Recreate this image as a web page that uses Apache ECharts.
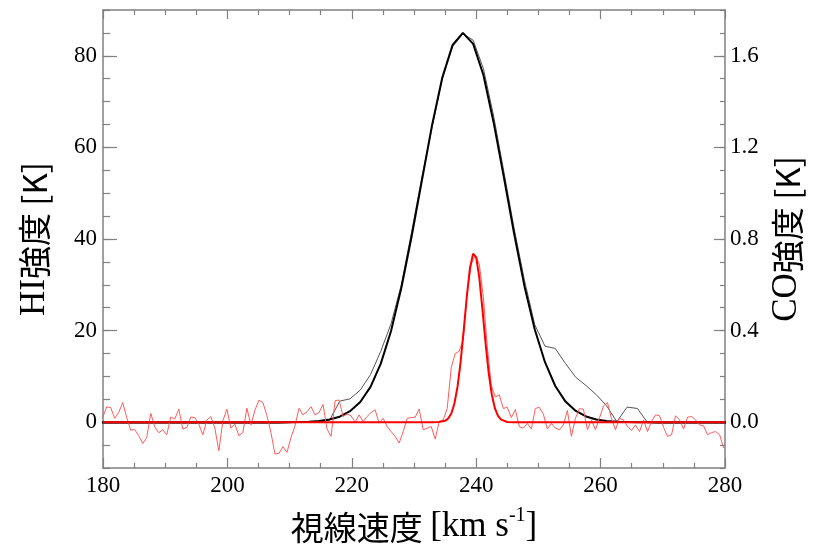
<!DOCTYPE html>
<html>
<head>
<meta charset="utf-8">
<script src="https://cdn.jsdelivr.net/npm/echarts@6/dist/echarts.min.js"></script>
<style>html,body{margin:0;padding:0;background:#fff}#c{width:819px;height:555px}</style>
</head>
<body>
<div id="c"></div>
<script>
// ---- data ----
const xTicks = [180, 200, 220, 240, 260, 280];
const hiTicks = [0, 20, 40, 60, 80];
const coTicks = [0, 0.4, 0.8, 1.2, 1.6];

// HI channels (km/s)
const hiVel = [178.46,180.11,181.76,183.41,185.06,186.71,188.36,190.01,191.66,193.31,194.96,196.61,198.26,199.91,201.56,203.21,204.86,206.51,208.16,209.81,211.46,213.11,214.76,216.41,218.06,219.71,221.36,223.01,224.66,226.31,227.96,229.61,231.26,232.91,234.56,236.21,237.86,239.51,241.16,242.81,244.46,246.11,247.76,249.41,251.06,252.71,254.36,256.01,257.66,259.31,260.96,262.61,264.26,265.91,267.56,269.21,270.86,272.51,274.16,275.81,277.46,279.11,280.76];
// HI observed spectrum (K)
const hiObs = [-0.25,-0.25,-0.25,-0.25,-0.25,-0.25,-0.25,-0.25,-0.25,-0.25,-0.25,-0.25,-0.25,-0.25,-0.25,-0.25,-0.25,-0.25,-0.25,-0.1,0,0.05,0.1,0.4,4.6,5.1,7.0,10.4,15.5,21.5,30.0,41.5,53.5,64.5,75.0,82.0,84.8,83.4,77.2,66.8,54.6,42.2,31.0,21.3,16.6,16.1,12.8,9.8,8.0,6.0,3.6,0.1,3.3,3.0,-0.1,-0.25,-0.25,-0.25,-0.25,-0.25,-0.25,-0.25,-0.25];
// HI Gaussian fit (K)
const hiFit = [0,0,0,0,0,0,0,0,0,0,0,0,0,0,0,0,0,0,0,0,0.04,0.11,0.27,0.58,1.2,2.4,4.4,7.7,12.8,19.9,29.3,40.5,52.7,64.9,75.3,82.4,85.0,82.6,75.8,65.4,53.4,41.1,29.7,20.3,13.1,7.9,4.5,2.45,1.25,0.6,0.27,0.11,0.04,0,0,0,0,0,0,0,0,0,0];

// CO channels (km/s)
const coVel = [179.95,180.59,181.24,181.88,182.52,183.17,183.81,184.46,185.10,185.74,186.39,187.03,187.68,188.32,188.97,189.61,190.25,190.90,191.54,192.19,192.83,193.47,194.12,194.76,195.41,196.05,196.69,197.34,197.98,198.63,199.27,199.92,200.56,201.20,201.85,202.49,203.14,203.78,204.42,205.07,205.71,206.36,207.00,207.64,208.29,208.93,209.58,210.22,210.87,211.51,212.15,212.80,213.44,214.09,214.73,215.37,216.02,216.66,217.31,217.95,218.60,219.24,219.88,220.53,221.17,221.82,222.46,223.10,223.75,224.39,225.04,225.68,226.32,226.97,227.61,228.26,228.90,229.54,230.19,230.83,231.48,232.12,232.77,233.41,234.05,234.70,235.34,235.99,236.63,237.27,237.92,238.56,239.21,239.85,240.49,241.14,241.78,242.43,243.07,243.71,244.36,245.00,245.65,246.29,246.93,247.58,248.22,248.87,249.51,250.15,250.80,251.44,252.09,252.73,253.37,254.02,254.66,255.31,255.95,256.59,257.24,257.88,258.53,259.17,259.81,260.46,261.10,261.75,262.39,263.03,263.68,264.32,264.97,265.61,266.26,266.90,267.54,268.19,268.83,269.48,270.12,270.76,271.41,272.05,272.70,273.34,273.98,274.63,275.27,275.92,276.56,277.20,277.85,278.49,279.14,279.78];
// CO observed spectrum (K)
const coObs = [0.020,0.067,0.064,0.017,0.042,0.086,0.020,-0.035,-0.032,-0.059,-0.093,-0.067,0.039,-0.020,-0.046,-0.033,-0.055,0.023,0.014,0.057,-0.030,-0.023,0.023,0.020,-0.009,-0.055,0.009,0.025,-0.026,-0.125,0.006,0.057,-0.026,-0.009,-0.059,-0.045,0.061,-0.012,0.052,0.096,0.086,0.028,-0.045,-0.139,-0.136,-0.107,-0.132,-0.067,-0.016,0.061,0.032,0.046,0.068,0.032,0.042,0.078,-0.030,
-0.062,0.094,0.097,0.025,0.036,0.028,0.0,0.032,0.003,0.025,0.042,0.054,-0.004,0.017,-0.019,-0.041,-0.062,-0.091,-0.041,0.017,0.020,0.022,0.057,-0.033,-0.026,-0.019,-0.074,0.003,0.010,
0.06,0.24,0.30,0.31,0.36,0.57,0.69,0.73,0.69,0.55,0.33,0.16,0.11,0.12,0.06,0.065,0.02,0.055,-0.02,-0.026,-0.005,-0.03,0.06,0.065,0.035,-0.03,-0.005,
-0.026,-0.033,-0.012,0.051,-0.062,0.017,0.059,0.057,-0.033,0.010,-0.033,0.017,0.071,0.086,0.017,-0.033,0.017,0.010,-0.019,-0.036,-0.012,-0.041,0.010,-0.041,0.003,0.032,0.028,-0.022,-0.062,-0.055,0.028,0.010,-0.030,0.022,0.025,0.010,-0.012,-0.016,-0.055,-0.045,-0.041,-0.055,-0.113];
// CO Gaussian fit
const coFitVel = [180,233,234,235,235.5,236,236.5,237,237.5,238,238.5,239,239.5,239.75,240,240.5,241,241.5,242,242.5,243,243.5,244,245,246,280];
const coFit = [0,0,0.001,0.006,0.016,0.038,0.082,0.155,0.265,0.404,0.551,0.674,0.736,0.74,0.72,0.631,0.494,0.346,0.217,0.122,0.061,0.028,0.011,0.001,0,0];

const zip = (a, b) => a.map((v, i) => [v, b[i]]);

const AX = '#808080';
const SERIF = 'Liberation Serif';
const CJK = 'Noto Sans CJK JP';
const labelStyle = { color: '#000', fontFamily: SERIF, fontSize: 23 };
const titleRich = {
  s: { fontFamily: SERIF, fontSize: 35, color: '#000' },
  c: { fontFamily: CJK, fontSize: 33, color: '#000' }
};

const chart = echarts.init(document.getElementById('c'), null, { renderer: 'canvas' });
chart.setOption({
  animation: false,
  backgroundColor: '#fff',
  grid: { left: 103, right: 94, top: 10, bottom: 87, containLabel: false, outerBoundsMode: 'none' },
  xAxis: [
    {
      type: 'value', position: 'bottom', min: 180, max: 280, interval: 20,
      axisLine: { show: true, onZero: false, lineStyle: { color: AX, width: 1.5 } },
      axisTick: { show: true, inside: true, length: 10, lineStyle: { color: AX, width: 1.2 } },
      minorTick: { show: true, splitNumber: 4, length: 5, lineStyle: { color: AX, width: 1.2 } },
      splitLine: { show: false }, minorSplitLine: { show: false },
      axisLabel: Object.assign({ margin: 6, customValues: xTicks }, labelStyle),
      name: '{c|視線速度 }{s|[km s}{sup|-1}{s|]}',
      nameLocation: 'middle', nameGap: 38,
      nameTextStyle: {
        rich: {
          c: { fontFamily: CJK, fontSize: 33, color: '#000', lineHeight: 42 },
          s: { fontFamily: SERIF, fontSize: 35, color: '#000', lineHeight: 42 },
          sup: { fontFamily: SERIF, fontSize: 20, color: '#000', verticalAlign: 'top', lineHeight: 42 }
        }
      }
    },
    {
      type: 'value', position: 'top', min: 180, max: 280, interval: 20,
      axisLine: { show: true, onZero: false, lineStyle: { color: AX, width: 1.5 } },
      axisTick: { show: true, inside: true, length: 9, lineStyle: { color: AX, width: 1.2 } },
      minorTick: { show: true, splitNumber: 4, length: 5, lineStyle: { color: AX, width: 1.2 } },
      splitLine: { show: false }, minorSplitLine: { show: false },
      axisLabel: { show: false }
    }
  ],
  yAxis: [
    {
      type: 'value', position: 'left', min: -10, max: 90,
      axisLine: { show: true, onZero: false, lineStyle: { color: AX, width: 1.5 } },
      axisTick: { show: true, inside: true, length: 14, customValues: hiTicks, lineStyle: { color: AX, width: 1.2 } },
      splitLine: { show: false },
      axisLabel: Object.assign({ margin: 6, customValues: hiTicks }, labelStyle),
      name: '{s|HI}{c|強度 [K]}',
      nameLocation: 'middle', nameGap: 51, nameRotate: 90,
      nameTextStyle: { rich: titleRich }
    },
    {
      type: 'value', position: 'right', min: -0.2, max: 1.8,
      axisLine: { show: true, onZero: false, lineStyle: { color: AX, width: 1.5 } },
      axisTick: { show: true, inside: true, length: 11, customValues: coTicks, lineStyle: { color: AX, width: 1.2 } },
      splitLine: { show: false },
      axisLabel: Object.assign({ margin: 5, customValues: coTicks, formatter: v => Number(v).toFixed(1) }, labelStyle),
      name: '{s|CO}{c|強度 [K]}',
      nameLocation: 'middle', nameGap: 44, nameRotate: 90,
      nameTextStyle: { rich: titleRich }
    },
    {
      type: 'value', position: 'left', min: -10, max: 90, interval: 5,
      axisLine: { show: false, onZero: false }, axisLabel: { show: false }, splitLine: { show: false },
      axisTick: { show: true, inside: true, length: 7, lineStyle: { color: AX, width: 1.2 } }
    },
    {
      type: 'value', position: 'right', min: -0.2, max: 1.8, interval: 0.1,
      axisLine: { show: false, onZero: false }, axisLabel: { show: false }, splitLine: { show: false },
      axisTick: { show: true, inside: true, length: 5, lineStyle: { color: AX, width: 1.2 } }
    }
  ],
  series: [
    { type: 'line', name: 'HI obs', xAxisIndex: 0, yAxisIndex: 0, data: zip(hiVel, hiObs), showSymbol: false, symbol: 'none',
      lineStyle: { color: '#555', width: 1 }, z: 2 },
    { type: 'line', name: 'HI fit', xAxisIndex: 0, yAxisIndex: 0, data: zip(hiVel, hiFit), showSymbol: false, symbol: 'none',
      lineStyle: { color: '#000', width: 2 }, z: 3 },
    { type: 'line', name: 'CO obs', xAxisIndex: 0, yAxisIndex: 1, data: zip(coVel, coObs), showSymbol: false, symbol: 'none',
      lineStyle: { color: '#ff5c5c', width: 1 }, z: 4 },
    { type: 'line', name: 'CO fit', xAxisIndex: 0, yAxisIndex: 1, data: zip(coFitVel, coFit), showSymbol: false, symbol: 'none',
      lineStyle: { color: '#ff0000', width: 2 }, z: 5 }
  ]
});
</script>
</body>
</html>
